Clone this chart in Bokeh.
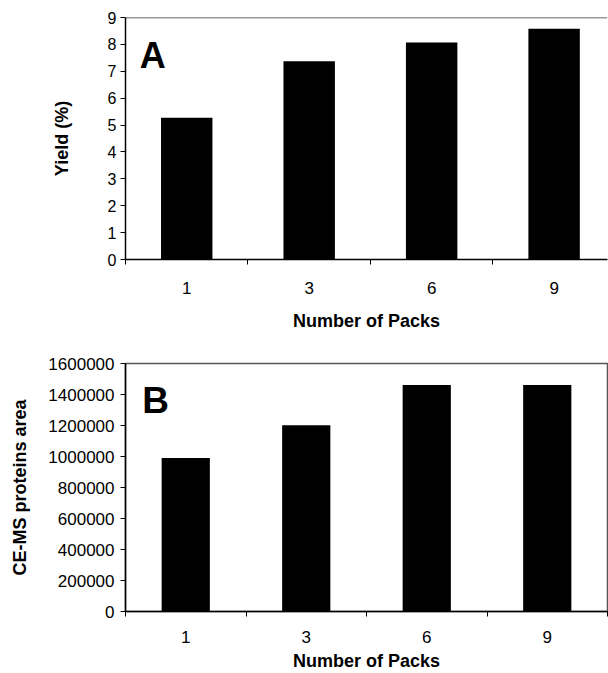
from bokeh.plotting import figure
from bokeh.layouts import column
from bokeh.models import Range1d, FixedTicker, Label, Span, NumeralTickFormatter
from bokeh.embed import file_html
from bokeh.resources import INLINE

# ---- data ----
packs = ["1", "3", "6", "9"]
yield_pct = [5.27, 7.37, 8.07, 8.58]
protein_area = [990000, 1202000, 1461000, 1461000]
yield_ticks = [0, 1, 2, 3, 4, 5, 6, 7, 8, 9]
area_ticks = [0, 200000, 400000, 600000, 800000, 1000000, 1200000, 1400000, 1600000]

FONT = "Liberation Sans"
centers = [i + 0.5 for i in range(len(packs))]
bounds = [float(i) for i in range(len(packs) + 1)]
overrides = {c: lab for c, lab in zip(centers, packs)}


def style(p, tick_px, xtick_px, ylab_standoff, ytitle_standoff, xlab_standoff, xtitle_standoff):
    p.xgrid.grid_line_color = None
    p.ygrid.grid_line_color = None
    p.background_fill_color = "white"
    p.border_fill_color = "white"
    for ax in (p.xaxis[0], p.yaxis[0]):
        ax.axis_line_color = "black"
        ax.axis_line_width = 1.5
        ax.major_label_text_font = FONT
        ax.major_label_text_color = "black"
        ax.axis_label_text_font = FONT
        ax.axis_label_text_font_style = "bold"
        ax.axis_label_text_font_size = "18px"
        ax.axis_label_text_color = "black"
    xa = p.xaxis[0]
    xa.ticker = FixedTicker(ticks=centers, minor_ticks=bounds)
    xa.major_label_overrides = overrides
    xa.major_tick_line_color = None
    xa.major_tick_in = 0
    xa.major_tick_out = 0
    xa.minor_tick_line_color = "black"
    xa.minor_tick_line_width = 1
    xa.minor_tick_in = 0
    xa.minor_tick_out = 5
    xa.major_label_text_font_size = xtick_px
    xa.major_label_standoff = xlab_standoff
    xa.axis_label_standoff = xtitle_standoff
    ya = p.yaxis[0]
    ya.minor_tick_line_color = None
    ya.major_tick_line_color = "black"
    ya.major_tick_in = 0
    ya.major_tick_out = 5
    ya.major_label_text_font_size = tick_px
    ya.major_label_standoff = ylab_standoff
    ya.axis_label_standoff = ytitle_standoff


# ---- panel A ----
pA = figure(width=608, height=340, output_backend="svg", toolbar_location=None,
            x_range=Range1d(0, 3.936), y_range=Range1d(0, 9),
            min_border_left=116, min_border_right=0, min_border_top=17, min_border_bottom=81)
pA.outline_line_color = None
pA.vbar(x=centers, top=yield_pct, width=0.42, fill_color="black", line_color=None)
pA.xaxis.axis_label = "Number of Packs"
pA.yaxis.axis_label = "Yield (%)"
pA.yaxis[0].ticker = FixedTicker(ticks=yield_ticks)
style(pA, "16px", "17px", 4, 33, 17, 14)
pA.add_layout(Span(location=9, dimension="width", line_color="#333333", line_width=1.5))
pA.add_layout(Label(x=0.116, y=7.59, text="A", text_font=FONT, text_font_style="bold",
                    text_font_size="36px", text_color="black", text_baseline="alphabetic"))

# ---- panel B ----
pB = figure(width=608, height=333, output_backend="svg", toolbar_location=None,
            x_range=Range1d(0, 4), y_range=Range1d(0, 1600000),
            min_border_left=125, min_border_right=1, min_border_top=23, min_border_bottom=61)
pB.outline_line_color = "#555555"
pB.outline_line_width = 1.5
pB.vbar(x=centers, top=protein_area, width=0.40, fill_color="black", line_color=None)
pB.xaxis.axis_label = "Number of Packs"
pB.yaxis.axis_label = "CE-MS proteins area"
pB.yaxis[0].ticker = FixedTicker(ticks=area_ticks)
pB.yaxis[0].formatter = NumeralTickFormatter(format="0")
style(pB, "17px", "17px", 6, 15, 14, 5)
pB.add_layout(Label(x=0.14, y=1362000, text="B", text_font=FONT, text_font_style="bold",
                    text_font_size="37px", text_color="black", text_baseline="alphabetic"))

layout = column(pA, pB, spacing=0)
open("out.html", "w").write(file_html(layout, INLINE))
